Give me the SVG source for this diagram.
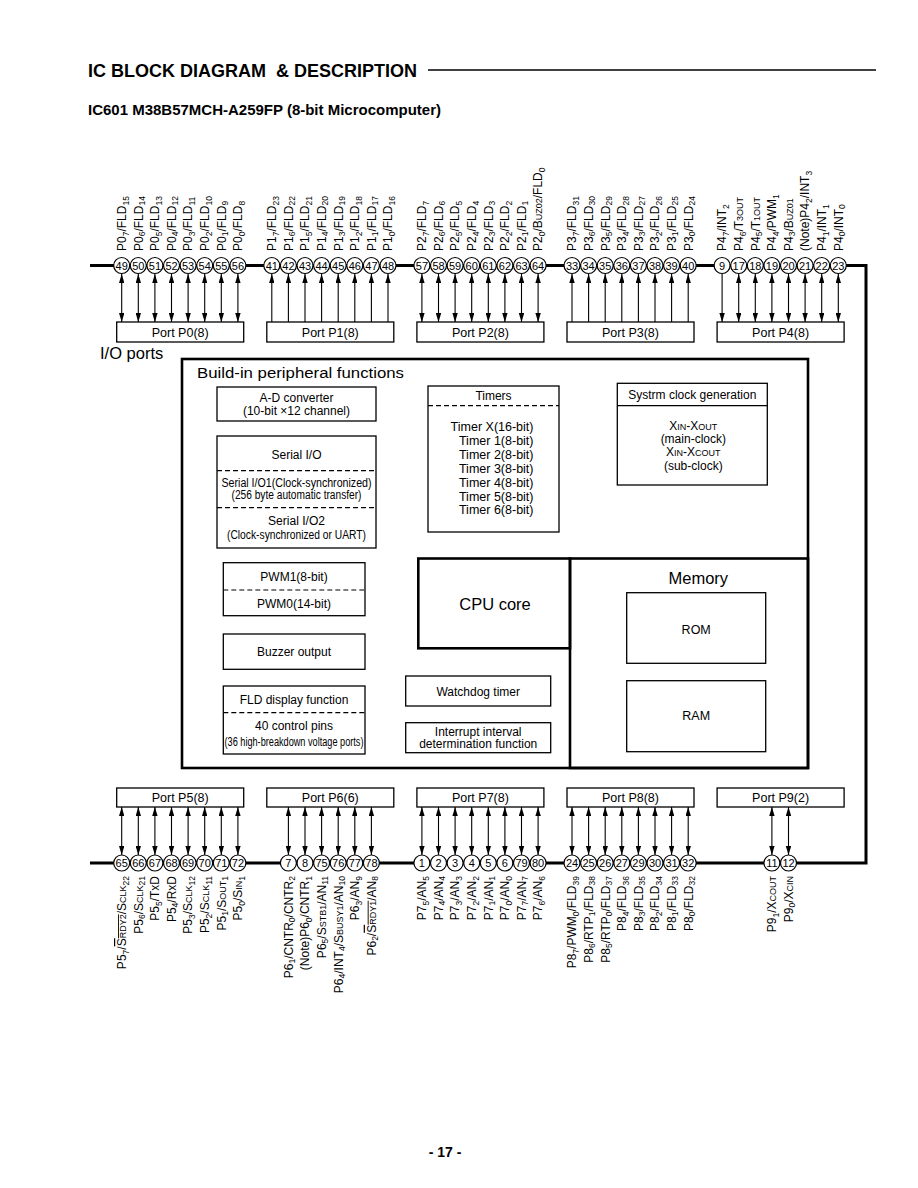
<svg xmlns="http://www.w3.org/2000/svg" width="918" height="1188" viewBox="0 0 918 1188">
<style>
text{font-family:"Liberation Sans",Arial,Helvetica,sans-serif;fill:#000}
.pn{font-size:11px;text-anchor:middle}
.lb{font-size:12px}
.lbb{font-size:12px;text-anchor:end}
.s{font-size:8.5px}
.c{font-size:9px}
.pin{fill:#fff;stroke:#000;stroke-width:1.2}
.bus{fill:none;stroke:#000;stroke-width:3}
.box{fill:#fff;stroke:#000;stroke-width:1.3}
.thick{fill:none;stroke:#000;stroke-width:2.6}
.dash{stroke:#000;stroke-width:1.2;stroke-dasharray:5 3}
.sol{stroke:#000;stroke-width:1.3}
.t{font-size:12px;text-anchor:middle}
.pt{font-size:12.5px;text-anchor:middle}
.conn line{stroke:#000;stroke-width:1.1}
.dbl{marker-start:url(#ah);marker-end:url(#ah)}
.one{marker-end:url(#ah)}
</style>
<defs>
<marker id="ah" viewBox="0 0 10 6" refX="10" refY="3" markerWidth="9" markerHeight="5.4" markerUnits="userSpaceOnUse" orient="auto-start-reverse"><path d="M0,0 L10,3 L0,6 z" fill="#000"/></marker>
</defs>
<rect width="918" height="1188" fill="#fff"/>

<g id="title">
<text x="88" y="77" font-size="18" font-weight="bold" textLength="329" lengthAdjust="spacingAndGlyphs" xml:space="preserve">IC BLOCK DIAGRAM  &amp; DESCRIPTION</text>
<line x1="428" y1="70" x2="876" y2="70" stroke="#000" stroke-width="1.5"/>
<text x="88" y="115" font-size="14.5" font-weight="bold" textLength="353" lengthAdjust="spacingAndGlyphs">IC601 M38B57MCH-A259FP (8-bit Microcomputer)</text>
<text x="445" y="1157" font-size="14" font-weight="bold" text-anchor="middle">- 17 -</text>
</g>

<g id="bus"><path class="bus" d="M90,265.5 H866 V863 H90"/></g>

<g id="connectors" class="conn">
<line class="dbl" x1="121.7" y1="274" x2="121.7" y2="322"/>
<line class="dbl" x1="138.3" y1="274" x2="138.3" y2="322"/>
<line class="dbl" x1="154.9" y1="274" x2="154.9" y2="322"/>
<line class="dbl" x1="171.5" y1="274" x2="171.5" y2="322"/>
<line class="dbl" x1="188.1" y1="274" x2="188.1" y2="322"/>
<line class="dbl" x1="204.7" y1="274" x2="204.7" y2="322"/>
<line class="dbl" x1="221.3" y1="274" x2="221.3" y2="322"/>
<line class="dbl" x1="237.9" y1="274" x2="237.9" y2="322"/>
<line class="one" x1="271.8" y1="322" x2="271.8" y2="274"/>
<line class="one" x1="288.4" y1="322" x2="288.4" y2="274"/>
<line class="one" x1="305" y1="322" x2="305" y2="274"/>
<line class="one" x1="321.6" y1="322" x2="321.6" y2="274"/>
<line class="one" x1="338.2" y1="322" x2="338.2" y2="274"/>
<line class="one" x1="354.8" y1="322" x2="354.8" y2="274"/>
<line class="one" x1="371.4" y1="322" x2="371.4" y2="274"/>
<line class="one" x1="388" y1="322" x2="388" y2="274"/>
<line class="dbl" x1="421.9" y1="274" x2="421.9" y2="322"/>
<line class="dbl" x1="438.5" y1="274" x2="438.5" y2="322"/>
<line class="dbl" x1="455.1" y1="274" x2="455.1" y2="322"/>
<line class="dbl" x1="471.7" y1="274" x2="471.7" y2="322"/>
<line class="dbl" x1="488.3" y1="274" x2="488.3" y2="322"/>
<line class="dbl" x1="504.9" y1="274" x2="504.9" y2="322"/>
<line class="dbl" x1="521.5" y1="274" x2="521.5" y2="322"/>
<line class="dbl" x1="538.1" y1="274" x2="538.1" y2="322"/>
<line class="one" x1="572" y1="322" x2="572" y2="274"/>
<line class="one" x1="588.6" y1="322" x2="588.6" y2="274"/>
<line class="one" x1="605.2" y1="322" x2="605.2" y2="274"/>
<line class="one" x1="621.8" y1="322" x2="621.8" y2="274"/>
<line class="one" x1="638.4" y1="322" x2="638.4" y2="274"/>
<line class="one" x1="655" y1="322" x2="655" y2="274"/>
<line class="one" x1="671.6" y1="322" x2="671.6" y2="274"/>
<line class="one" x1="688.2" y1="322" x2="688.2" y2="274"/>
<line class="one" x1="722.1" y1="274" x2="722.1" y2="322"/>
<line class="dbl" x1="738.7" y1="274" x2="738.7" y2="322"/>
<line class="dbl" x1="755.3" y1="274" x2="755.3" y2="322"/>
<line class="dbl" x1="771.9" y1="274" x2="771.9" y2="322"/>
<line class="dbl" x1="788.5" y1="274" x2="788.5" y2="322"/>
<line class="dbl" x1="805.1" y1="274" x2="805.1" y2="322"/>
<line class="dbl" x1="821.7" y1="274" x2="821.7" y2="322"/>
<line class="dbl" x1="838.3" y1="274" x2="838.3" y2="322"/>

<line class="dbl" x1="121.7" y1="807" x2="121.7" y2="855"/>
<line class="dbl" x1="138.3" y1="807" x2="138.3" y2="855"/>
<line class="dbl" x1="154.9" y1="807" x2="154.9" y2="855"/>
<line class="dbl" x1="171.5" y1="807" x2="171.5" y2="855"/>
<line class="dbl" x1="188.1" y1="807" x2="188.1" y2="855"/>
<line class="dbl" x1="204.7" y1="807" x2="204.7" y2="855"/>
<line class="dbl" x1="221.3" y1="807" x2="221.3" y2="855"/>
<line class="dbl" x1="237.9" y1="807" x2="237.9" y2="855"/>
<line class="dbl" x1="288.4" y1="807" x2="288.4" y2="855"/>
<line class="dbl" x1="305" y1="807" x2="305" y2="855"/>
<line class="dbl" x1="321.6" y1="807" x2="321.6" y2="855"/>
<line class="dbl" x1="338.2" y1="807" x2="338.2" y2="855"/>
<line class="dbl" x1="354.8" y1="807" x2="354.8" y2="855"/>
<line class="dbl" x1="371.4" y1="807" x2="371.4" y2="855"/>
<line class="dbl" x1="421.9" y1="807" x2="421.9" y2="855"/>
<line class="dbl" x1="438.5" y1="807" x2="438.5" y2="855"/>
<line class="dbl" x1="455.1" y1="807" x2="455.1" y2="855"/>
<line class="dbl" x1="471.7" y1="807" x2="471.7" y2="855"/>
<line class="dbl" x1="488.3" y1="807" x2="488.3" y2="855"/>
<line class="dbl" x1="504.9" y1="807" x2="504.9" y2="855"/>
<line class="dbl" x1="521.5" y1="807" x2="521.5" y2="855"/>
<line class="dbl" x1="538.1" y1="807" x2="538.1" y2="855"/>
<line class="dbl" x1="572" y1="807" x2="572" y2="855"/>
<line class="dbl" x1="588.6" y1="807" x2="588.6" y2="855"/>
<line class="dbl" x1="605.2" y1="807" x2="605.2" y2="855"/>
<line class="dbl" x1="621.8" y1="807" x2="621.8" y2="855"/>
<line class="dbl" x1="638.4" y1="807" x2="638.4" y2="855"/>
<line class="dbl" x1="655" y1="807" x2="655" y2="855"/>
<line class="dbl" x1="671.6" y1="807" x2="671.6" y2="855"/>
<line class="dbl" x1="688.2" y1="807" x2="688.2" y2="855"/>
<line class="dbl" x1="771.9" y1="807" x2="771.9" y2="855"/>
<line class="dbl" x1="788.5" y1="807" x2="788.5" y2="855"/>
</g>

<text x="100" y="359" font-size="16.5">I/O ports</text>

<g id="portP0"><rect class="box" x="116.7" y="322" width="127" height="20"/><text class="pt" x="180.2" y="336.5">Port P0(8)</text></g>
<g id="portP1"><rect class="box" x="266.8" y="322" width="127" height="20"/><text class="pt" x="330.3" y="336.5">Port P1(8)</text></g>
<g id="portP2"><rect class="box" x="416.9" y="322" width="127" height="20"/><text class="pt" x="480.4" y="336.5">Port P2(8)</text></g>
<g id="portP3"><rect class="box" x="567" y="322" width="127" height="20"/><text class="pt" x="630.5" y="336.5">Port P3(8)</text></g>
<g id="portP4"><rect class="box" x="717.1" y="322" width="127" height="20"/><text class="pt" x="780.6" y="336.5">Port P4(8)</text></g>
<g id="portP5"><rect class="box" x="116.7" y="788" width="127" height="19"/><text class="pt" x="180.2" y="802">Port P5(8)</text></g>
<g id="portP6"><rect class="box" x="266.8" y="788" width="127" height="19"/><text class="pt" x="330.3" y="802">Port P6(6)</text></g>
<g id="portP7"><rect class="box" x="416.9" y="788" width="127" height="19"/><text class="pt" x="480.4" y="802">Port P7(8)</text></g>
<g id="portP8"><rect class="box" x="567" y="788" width="127" height="19"/><text class="pt" x="630.5" y="802">Port P8(8)</text></g>
<g id="portP9"><rect class="box" x="717.1" y="788" width="127" height="19"/><text class="pt" x="780.6" y="802">Port P9(2)</text></g>

<g id="peripheral">
<rect class="thick" x="182" y="359" width="626" height="409"/>
<text x="197" y="378" font-size="15.5" textLength="207" lengthAdjust="spacingAndGlyphs">Build-in peripheral functions</text>
</g>
<g id="adc"><rect class="box" x="217" y="387" width="159" height="34"/><text class="t" x="296.5" y="401.5">A-D converter</text><text class="t" x="296.5" y="414.5">(10-bit ×12 channel)</text></g>
<g id="serial"><rect class="box" x="217" y="436" width="159" height="112"/>
<line class="dash" x1="217" y1="470.7" x2="376" y2="470.7"/><line class="dash" x1="217" y1="507.7" x2="376" y2="507.7"/>
<text class="t" x="296.5" y="458.5" font-size="12.5">Serial I/O</text>
<text class="t" x="296.5" y="486.7" font-size="10.5" textLength="150" lengthAdjust="spacingAndGlyphs">Serial I/O1(Clock-synchronized)</text>
<text class="t" x="296.5" y="499" font-size="10.5" textLength="130" lengthAdjust="spacingAndGlyphs">(256 byte automatic transfer)</text>
<text class="t" x="296.5" y="524.5" font-size="10.5" textLength="57" lengthAdjust="spacingAndGlyphs">Serial I/O2</text>
<text class="t" x="296.5" y="539" font-size="10.5" textLength="139" lengthAdjust="spacingAndGlyphs">(Clock-synchronized or UART)</text>
</g>
<g id="timers"><rect class="box" x="428" y="386" width="131" height="146"/>
<line class="dash" x1="428" y1="405.7" x2="559" y2="405.7"/>
<text class="t" x="493.5" y="399.5">Timers</text>
<g font-size="12.5" text-anchor="end">
<text x="533.5" y="431">Timer X(16-bit)</text>
<text x="533.5" y="444.9">Timer 1(8-bit)</text>
<text x="533.5" y="458.8">Timer 2(8-bit)</text>
<text x="533.5" y="472.7">Timer 3(8-bit)</text>
<text x="533.5" y="486.6">Timer 4(8-bit)</text>
<text x="533.5" y="500.5">Timer 5(8-bit)</text>
<text x="533.5" y="514.4">Timer 6(8-bit)</text>
</g></g>
<g id="clock"><rect class="box" x="617.3" y="383.3" width="150" height="101.7"/>
<line class="sol" x1="617.3" y1="405.7" x2="767.3" y2="405.7"/>
<text class="t" x="692.3" y="398.6">Systrm clock generation</text>
<text class="t" x="693.3" y="430" font-size="11.5">X<tspan class="c">IN</tspan>-X<tspan class="c">OUT</tspan></text>
<text class="t" x="693.3" y="443.2" font-size="11.5">(main-clock)</text>
<text class="t" x="693.3" y="456.4" font-size="11.5">X<tspan class="c">IN</tspan>-X<tspan class="c">COUT</tspan></text>
<text class="t" x="693.3" y="469.6" font-size="11.5">(sub-clock)</text>
</g>
<g id="pwm"><rect class="box" x="223.3" y="562.7" width="141.7" height="53"/>
<line class="dash" x1="223.3" y1="590" x2="365" y2="590"/>
<text class="t" x="294" y="581">PWM1(8-bit)</text><text class="t" x="294" y="608.3">PWM0(14-bit)</text></g>
<g id="buzzer"><rect class="box" x="223.3" y="634" width="141.7" height="35.3"/><text class="t" x="294" y="656">Buzzer output</text></g>
<g id="fld"><rect class="box" x="223.3" y="686" width="141.7" height="68"/>
<line class="dash" x1="223.3" y1="712.7" x2="365" y2="712.7"/>
<text class="t" x="294" y="704.3">FLD display function</text>
<text class="t" x="294" y="730.3">40 control pins</text>
<text class="t" x="294" y="746" font-size="9.5" textLength="139" lengthAdjust="spacingAndGlyphs">(36 high-breakdown voltage ports)</text></g>
<g id="cpu"><rect class="thick" x="418.3" y="558.5" width="151.7" height="89.8"/><text x="495" y="610" font-size="16.5" text-anchor="middle">CPU core</text></g>
<g id="memory"><rect class="thick" x="570" y="558.5" width="238" height="209.5"/><text x="698.3" y="584" font-size="16.5" text-anchor="middle">Memory</text></g>
<g id="rom"><rect class="box" x="626.7" y="592.7" width="139" height="70.6"/><text class="pt" x="696.2" y="633.5">ROM</text></g>
<g id="ram"><rect class="box" x="626.7" y="680.7" width="139" height="71"/><text class="pt" x="696.2" y="719.5">RAM</text></g>
<g id="watchdog"><rect class="box" x="405.7" y="676" width="145" height="30"/><text class="t" x="478.2" y="696">Watchdog timer</text></g>
<g id="interrupt"><rect class="box" x="405.7" y="722.7" width="145" height="30"/><text class="t" x="478.2" y="736">Interrupt interval</text><text class="t" x="478.2" y="748.3">determination function</text></g>

<g id="pins-top">
<g id="pin49"><circle class="pin" cx="121.7" cy="265.5" r="8"/><text class="pn" x="121.7" y="269.5">49</text><text class="lb" transform="translate(126,251) rotate(-90)">P0<tspan class="s" dy="2.5">7</tspan><tspan dy="-2.5">/FLD</tspan><tspan class="s" dy="2.5">15</tspan></text></g>
<g id="pin50"><circle class="pin" cx="138.3" cy="265.5" r="8"/><text class="pn" x="138.3" y="269.5">50</text><text class="lb" transform="translate(142.6,251) rotate(-90)">P0<tspan class="s" dy="2.5">6</tspan><tspan dy="-2.5">/FLD</tspan><tspan class="s" dy="2.5">14</tspan></text></g>
<g id="pin51"><circle class="pin" cx="154.9" cy="265.5" r="8"/><text class="pn" x="154.9" y="269.5">51</text><text class="lb" transform="translate(159.2,251) rotate(-90)">P0<tspan class="s" dy="2.5">5</tspan><tspan dy="-2.5">/FLD</tspan><tspan class="s" dy="2.5">13</tspan></text></g>
<g id="pin52"><circle class="pin" cx="171.5" cy="265.5" r="8"/><text class="pn" x="171.5" y="269.5">52</text><text class="lb" transform="translate(175.8,251) rotate(-90)">P0<tspan class="s" dy="2.5">4</tspan><tspan dy="-2.5">/FLD</tspan><tspan class="s" dy="2.5">12</tspan></text></g>
<g id="pin53"><circle class="pin" cx="188.1" cy="265.5" r="8"/><text class="pn" x="188.1" y="269.5">53</text><text class="lb" transform="translate(192.4,251) rotate(-90)">P0<tspan class="s" dy="2.5">3</tspan><tspan dy="-2.5">/FLD</tspan><tspan class="s" dy="2.5">11</tspan></text></g>
<g id="pin54"><circle class="pin" cx="204.7" cy="265.5" r="8"/><text class="pn" x="204.7" y="269.5">54</text><text class="lb" transform="translate(209,251) rotate(-90)">P0<tspan class="s" dy="2.5">2</tspan><tspan dy="-2.5">/FLD</tspan><tspan class="s" dy="2.5">10</tspan></text></g>
<g id="pin55"><circle class="pin" cx="221.3" cy="265.5" r="8"/><text class="pn" x="221.3" y="269.5">55</text><text class="lb" transform="translate(225.6,251) rotate(-90)">P0<tspan class="s" dy="2.5">1</tspan><tspan dy="-2.5">/FLD</tspan><tspan class="s" dy="2.5">9</tspan></text></g>
<g id="pin56"><circle class="pin" cx="237.9" cy="265.5" r="8"/><text class="pn" x="237.9" y="269.5">56</text><text class="lb" transform="translate(242.2,251) rotate(-90)">P0<tspan class="s" dy="2.5">0</tspan><tspan dy="-2.5">/FLD</tspan><tspan class="s" dy="2.5">8</tspan></text></g>
<g id="pin41"><circle class="pin" cx="271.8" cy="265.5" r="8"/><text class="pn" x="271.8" y="269.5">41</text><text class="lb" transform="translate(276.1,251) rotate(-90)">P1<tspan class="s" dy="2.5">7</tspan><tspan dy="-2.5">/FLD</tspan><tspan class="s" dy="2.5">23</tspan></text></g>
<g id="pin42"><circle class="pin" cx="288.4" cy="265.5" r="8"/><text class="pn" x="288.4" y="269.5">42</text><text class="lb" transform="translate(292.7,251) rotate(-90)">P1<tspan class="s" dy="2.5">6</tspan><tspan dy="-2.5">/FLD</tspan><tspan class="s" dy="2.5">22</tspan></text></g>
<g id="pin43"><circle class="pin" cx="305" cy="265.5" r="8"/><text class="pn" x="305" y="269.5">43</text><text class="lb" transform="translate(309.3,251) rotate(-90)">P1<tspan class="s" dy="2.5">5</tspan><tspan dy="-2.5">/FLD</tspan><tspan class="s" dy="2.5">21</tspan></text></g>
<g id="pin44"><circle class="pin" cx="321.6" cy="265.5" r="8"/><text class="pn" x="321.6" y="269.5">44</text><text class="lb" transform="translate(325.9,251) rotate(-90)">P1<tspan class="s" dy="2.5">4</tspan><tspan dy="-2.5">/FLD</tspan><tspan class="s" dy="2.5">20</tspan></text></g>
<g id="pin45"><circle class="pin" cx="338.2" cy="265.5" r="8"/><text class="pn" x="338.2" y="269.5">45</text><text class="lb" transform="translate(342.5,251) rotate(-90)">P1<tspan class="s" dy="2.5">3</tspan><tspan dy="-2.5">/FLD</tspan><tspan class="s" dy="2.5">19</tspan></text></g>
<g id="pin46"><circle class="pin" cx="354.8" cy="265.5" r="8"/><text class="pn" x="354.8" y="269.5">46</text><text class="lb" transform="translate(359.1,251) rotate(-90)">P1<tspan class="s" dy="2.5">2</tspan><tspan dy="-2.5">/FLD</tspan><tspan class="s" dy="2.5">18</tspan></text></g>
<g id="pin47"><circle class="pin" cx="371.4" cy="265.5" r="8"/><text class="pn" x="371.4" y="269.5">47</text><text class="lb" transform="translate(375.7,251) rotate(-90)">P1<tspan class="s" dy="2.5">1</tspan><tspan dy="-2.5">/FLD</tspan><tspan class="s" dy="2.5">17</tspan></text></g>
<g id="pin48"><circle class="pin" cx="388" cy="265.5" r="8"/><text class="pn" x="388" y="269.5">48</text><text class="lb" transform="translate(392.3,251) rotate(-90)">P1<tspan class="s" dy="2.5">0</tspan><tspan dy="-2.5">/FLD</tspan><tspan class="s" dy="2.5">16</tspan></text></g>
<g id="pin57"><circle class="pin" cx="421.9" cy="265.5" r="8"/><text class="pn" x="421.9" y="269.5">57</text><text class="lb" transform="translate(426.2,251) rotate(-90)">P2<tspan class="s" dy="2.5">7</tspan><tspan dy="-2.5">/FLD</tspan><tspan class="s" dy="2.5">7</tspan></text></g>
<g id="pin58"><circle class="pin" cx="438.5" cy="265.5" r="8"/><text class="pn" x="438.5" y="269.5">58</text><text class="lb" transform="translate(442.8,251) rotate(-90)">P2<tspan class="s" dy="2.5">6</tspan><tspan dy="-2.5">/FLD</tspan><tspan class="s" dy="2.5">6</tspan></text></g>
<g id="pin59"><circle class="pin" cx="455.1" cy="265.5" r="8"/><text class="pn" x="455.1" y="269.5">59</text><text class="lb" transform="translate(459.4,251) rotate(-90)">P2<tspan class="s" dy="2.5">5</tspan><tspan dy="-2.5">/FLD</tspan><tspan class="s" dy="2.5">5</tspan></text></g>
<g id="pin60"><circle class="pin" cx="471.7" cy="265.5" r="8"/><text class="pn" x="471.7" y="269.5">60</text><text class="lb" transform="translate(476,251) rotate(-90)">P2<tspan class="s" dy="2.5">4</tspan><tspan dy="-2.5">/FLD</tspan><tspan class="s" dy="2.5">4</tspan></text></g>
<g id="pin61"><circle class="pin" cx="488.3" cy="265.5" r="8"/><text class="pn" x="488.3" y="269.5">61</text><text class="lb" transform="translate(492.6,251) rotate(-90)">P2<tspan class="s" dy="2.5">3</tspan><tspan dy="-2.5">/FLD</tspan><tspan class="s" dy="2.5">3</tspan></text></g>
<g id="pin62"><circle class="pin" cx="504.9" cy="265.5" r="8"/><text class="pn" x="504.9" y="269.5">62</text><text class="lb" transform="translate(509.2,251) rotate(-90)">P2<tspan class="s" dy="2.5">2</tspan><tspan dy="-2.5">/FLD</tspan><tspan class="s" dy="2.5">2</tspan></text></g>
<g id="pin63"><circle class="pin" cx="521.5" cy="265.5" r="8"/><text class="pn" x="521.5" y="269.5">63</text><text class="lb" transform="translate(525.8,251) rotate(-90)">P2<tspan class="s" dy="2.5">1</tspan><tspan dy="-2.5">/FLD</tspan><tspan class="s" dy="2.5">1</tspan></text></g>
<g id="pin64"><circle class="pin" cx="538.1" cy="265.5" r="8"/><text class="pn" x="538.1" y="269.5">64</text><text class="lb" transform="translate(542.4,251) rotate(-90)">P2<tspan class="s" dy="2.5">0</tspan><tspan dy="-2.5">/B</tspan><tspan class="c">UZ02</tspan>/FLD<tspan class="s" dy="2.5">0</tspan></text></g>
<g id="pin33"><circle class="pin" cx="572" cy="265.5" r="8"/><text class="pn" x="572" y="269.5">33</text><text class="lb" transform="translate(576.3,251) rotate(-90)">P3<tspan class="s" dy="2.5">7</tspan><tspan dy="-2.5">/FLD</tspan><tspan class="s" dy="2.5">31</tspan></text></g>
<g id="pin34"><circle class="pin" cx="588.6" cy="265.5" r="8"/><text class="pn" x="588.6" y="269.5">34</text><text class="lb" transform="translate(592.9,251) rotate(-90)">P3<tspan class="s" dy="2.5">6</tspan><tspan dy="-2.5">/FLD</tspan><tspan class="s" dy="2.5">30</tspan></text></g>
<g id="pin35"><circle class="pin" cx="605.2" cy="265.5" r="8"/><text class="pn" x="605.2" y="269.5">35</text><text class="lb" transform="translate(609.5,251) rotate(-90)">P3<tspan class="s" dy="2.5">5</tspan><tspan dy="-2.5">/FLD</tspan><tspan class="s" dy="2.5">29</tspan></text></g>
<g id="pin36"><circle class="pin" cx="621.8" cy="265.5" r="8"/><text class="pn" x="621.8" y="269.5">36</text><text class="lb" transform="translate(626.1,251) rotate(-90)">P3<tspan class="s" dy="2.5">4</tspan><tspan dy="-2.5">/FLD</tspan><tspan class="s" dy="2.5">28</tspan></text></g>
<g id="pin37"><circle class="pin" cx="638.4" cy="265.5" r="8"/><text class="pn" x="638.4" y="269.5">37</text><text class="lb" transform="translate(642.7,251) rotate(-90)">P3<tspan class="s" dy="2.5">3</tspan><tspan dy="-2.5">/FLD</tspan><tspan class="s" dy="2.5">27</tspan></text></g>
<g id="pin38"><circle class="pin" cx="655" cy="265.5" r="8"/><text class="pn" x="655" y="269.5">38</text><text class="lb" transform="translate(659.3,251) rotate(-90)">P3<tspan class="s" dy="2.5">2</tspan><tspan dy="-2.5">/FLD</tspan><tspan class="s" dy="2.5">26</tspan></text></g>
<g id="pin39"><circle class="pin" cx="671.6" cy="265.5" r="8"/><text class="pn" x="671.6" y="269.5">39</text><text class="lb" transform="translate(675.9,251) rotate(-90)">P3<tspan class="s" dy="2.5">1</tspan><tspan dy="-2.5">/FLD</tspan><tspan class="s" dy="2.5">25</tspan></text></g>
<g id="pin40"><circle class="pin" cx="688.2" cy="265.5" r="8"/><text class="pn" x="688.2" y="269.5">40</text><text class="lb" transform="translate(692.5,251) rotate(-90)">P3<tspan class="s" dy="2.5">0</tspan><tspan dy="-2.5">/FLD</tspan><tspan class="s" dy="2.5">24</tspan></text></g>
<g id="pin9"><circle class="pin" cx="722.1" cy="265.5" r="8"/><text class="pn" x="722.1" y="269.5">9</text><text class="lb" transform="translate(726.4,251) rotate(-90)">P4<tspan class="s" dy="2.5">7</tspan><tspan dy="-2.5">/INT</tspan><tspan class="s" dy="2.5">2</tspan></text></g>
<g id="pin17"><circle class="pin" cx="738.7" cy="265.5" r="8"/><text class="pn" x="738.7" y="269.5">17</text><text class="lb" transform="translate(743,251) rotate(-90)">P4<tspan class="s" dy="2.5">6</tspan><tspan dy="-2.5">/T</tspan><tspan class="c">3OUT</tspan></text></g>
<g id="pin18"><circle class="pin" cx="755.3" cy="265.5" r="8"/><text class="pn" x="755.3" y="269.5">18</text><text class="lb" transform="translate(759.6,251) rotate(-90)">P4<tspan class="s" dy="2.5">5</tspan><tspan dy="-2.5">/T</tspan><tspan class="c">1OUT</tspan></text></g>
<g id="pin19"><circle class="pin" cx="771.9" cy="265.5" r="8"/><text class="pn" x="771.9" y="269.5">19</text><text class="lb" transform="translate(776.2,251) rotate(-90)">P4<tspan class="s" dy="2.5">4</tspan><tspan dy="-2.5">/PWM</tspan><tspan class="s" dy="2.5">1</tspan></text></g>
<g id="pin20"><circle class="pin" cx="788.5" cy="265.5" r="8"/><text class="pn" x="788.5" y="269.5">20</text><text class="lb" transform="translate(792.8,251) rotate(-90)">P4<tspan class="s" dy="2.5">3</tspan><tspan dy="-2.5">/B</tspan><tspan class="c">UZ01</tspan></text></g>
<g id="pin21"><circle class="pin" cx="805.1" cy="265.5" r="8"/><text class="pn" x="805.1" y="269.5">21</text><text class="lb" transform="translate(809.4,251) rotate(-90)">(Note)P4<tspan class="s" dy="2.5">2</tspan><tspan dy="-2.5">/INT</tspan><tspan class="s" dy="2.5">3</tspan></text></g>
<g id="pin22"><circle class="pin" cx="821.7" cy="265.5" r="8"/><text class="pn" x="821.7" y="269.5">22</text><text class="lb" transform="translate(826,251) rotate(-90)">P4<tspan class="s" dy="2.5">1</tspan><tspan dy="-2.5">/INT</tspan><tspan class="s" dy="2.5">1</tspan></text></g>
<g id="pin23"><circle class="pin" cx="838.3" cy="265.5" r="8"/><text class="pn" x="838.3" y="269.5">23</text><text class="lb" transform="translate(842.6,251) rotate(-90)">P4<tspan class="s" dy="2.5">0</tspan><tspan dy="-2.5">/INT</tspan><tspan class="s" dy="2.5">0</tspan></text></g>
</g>

<g id="pins-bottom">
<g id="pin65"><circle class="pin" cx="121.7" cy="863" r="8"/><text class="pn" x="121.7" y="867">65</text><text class="lbb" transform="translate(126,876) rotate(-90)">P5<tspan class="s" dy="2.5">7</tspan><tspan dy="-2.5">/</tspan><tspan text-decoration="overline">S<tspan class="c">RDY2</tspan></tspan>/S<tspan class="c">CLK</tspan><tspan class="s" dy="2.5">22</tspan></text></g>
<g id="pin66"><circle class="pin" cx="138.3" cy="863" r="8"/><text class="pn" x="138.3" y="867">66</text><text class="lbb" transform="translate(142.6,876) rotate(-90)">P5<tspan class="s" dy="2.5">6</tspan><tspan dy="-2.5">/S</tspan><tspan class="c">CLK</tspan><tspan class="s" dy="2.5">21</tspan></text></g>
<g id="pin67"><circle class="pin" cx="154.9" cy="863" r="8"/><text class="pn" x="154.9" y="867">67</text><text class="lbb" transform="translate(159.2,876) rotate(-90)">P5<tspan class="s" dy="2.5">5</tspan><tspan dy="-2.5">/TxD</tspan></text></g>
<g id="pin68"><circle class="pin" cx="171.5" cy="863" r="8"/><text class="pn" x="171.5" y="867">68</text><text class="lbb" transform="translate(175.8,876) rotate(-90)">P5<tspan class="s" dy="2.5">4</tspan><tspan dy="-2.5">/RxD</tspan></text></g>
<g id="pin69"><circle class="pin" cx="188.1" cy="863" r="8"/><text class="pn" x="188.1" y="867">69</text><text class="lbb" transform="translate(192.4,876) rotate(-90)">P5<tspan class="s" dy="2.5">3</tspan><tspan dy="-2.5">/S</tspan><tspan class="c">CLK</tspan><tspan class="s" dy="2.5">12</tspan></text></g>
<g id="pin70"><circle class="pin" cx="204.7" cy="863" r="8"/><text class="pn" x="204.7" y="867">70</text><text class="lbb" transform="translate(209,876) rotate(-90)">P5<tspan class="s" dy="2.5">2</tspan><tspan dy="-2.5">/S</tspan><tspan class="c">CLK</tspan><tspan class="s" dy="2.5">11</tspan></text></g>
<g id="pin71"><circle class="pin" cx="221.3" cy="863" r="8"/><text class="pn" x="221.3" y="867">71</text><text class="lbb" transform="translate(225.6,876) rotate(-90)">P5<tspan class="s" dy="2.5">1</tspan><tspan dy="-2.5">/S</tspan><tspan class="c">OUT</tspan><tspan class="s" dy="2.5">1</tspan></text></g>
<g id="pin72"><circle class="pin" cx="237.9" cy="863" r="8"/><text class="pn" x="237.9" y="867">72</text><text class="lbb" transform="translate(242.2,876) rotate(-90)">P5<tspan class="s" dy="2.5">0</tspan><tspan dy="-2.5">/S</tspan><tspan class="c">IN</tspan><tspan class="s" dy="2.5">1</tspan></text></g>
<g id="pin7"><circle class="pin" cx="288.4" cy="863" r="8"/><text class="pn" x="288.4" y="867">7</text><text class="lbb" transform="translate(292.7,876) rotate(-90)">P6<tspan class="s" dy="2.5">1</tspan><tspan dy="-2.5">/CNTR</tspan><tspan class="s" dy="2.5">0</tspan><tspan dy="-2.5">/CNTR</tspan><tspan class="s" dy="2.5">2</tspan></text></g>
<g id="pin8"><circle class="pin" cx="305" cy="863" r="8"/><text class="pn" x="305" y="867">8</text><text class="lbb" transform="translate(309.3,876) rotate(-90)">(Note)P6<tspan class="s" dy="2.5">0</tspan><tspan dy="-2.5">/CNTR</tspan><tspan class="s" dy="2.5">1</tspan></text></g>
<g id="pin75"><circle class="pin" cx="321.6" cy="863" r="8"/><text class="pn" x="321.6" y="867">75</text><text class="lbb" transform="translate(325.9,876) rotate(-90)">P6<tspan class="s" dy="2.5">5</tspan><tspan dy="-2.5">/S</tspan><tspan class="c">STB1</tspan>/AN<tspan class="s" dy="2.5">11</tspan></text></g>
<g id="pin76"><circle class="pin" cx="338.2" cy="863" r="8"/><text class="pn" x="338.2" y="867">76</text><text class="lbb" transform="translate(342.5,876) rotate(-90)">P6<tspan class="s" dy="2.5">4</tspan><tspan dy="-2.5">/INT</tspan><tspan class="s" dy="2.5">4</tspan><tspan dy="-2.5">/S</tspan><tspan class="c">BUSY1</tspan>/AN<tspan class="s" dy="2.5">10</tspan></text></g>
<g id="pin77"><circle class="pin" cx="354.8" cy="863" r="8"/><text class="pn" x="354.8" y="867">77</text><text class="lbb" transform="translate(359.1,876) rotate(-90)">P6<tspan class="s" dy="2.5">3</tspan><tspan dy="-2.5">/AN</tspan><tspan class="s" dy="2.5">9</tspan></text></g>
<g id="pin78"><circle class="pin" cx="371.4" cy="863" r="8"/><text class="pn" x="371.4" y="867">78</text><text class="lbb" transform="translate(375.7,876) rotate(-90)">P6<tspan class="s" dy="2.5">2</tspan><tspan dy="-2.5">/</tspan><tspan text-decoration="overline">S<tspan class="c">RDY1</tspan></tspan>/AN<tspan class="s" dy="2.5">8</tspan></text></g>
<g id="pin1"><circle class="pin" cx="421.9" cy="863" r="8"/><text class="pn" x="421.9" y="867">1</text><text class="lbb" transform="translate(426.2,876) rotate(-90)">P7<tspan class="s" dy="2.5">5</tspan><tspan dy="-2.5">/AN</tspan><tspan class="s" dy="2.5">5</tspan></text></g>
<g id="pin2"><circle class="pin" cx="438.5" cy="863" r="8"/><text class="pn" x="438.5" y="867">2</text><text class="lbb" transform="translate(442.8,876) rotate(-90)">P7<tspan class="s" dy="2.5">4</tspan><tspan dy="-2.5">/AN</tspan><tspan class="s" dy="2.5">4</tspan></text></g>
<g id="pin3"><circle class="pin" cx="455.1" cy="863" r="8"/><text class="pn" x="455.1" y="867">3</text><text class="lbb" transform="translate(459.4,876) rotate(-90)">P7<tspan class="s" dy="2.5">3</tspan><tspan dy="-2.5">/AN</tspan><tspan class="s" dy="2.5">3</tspan></text></g>
<g id="pin4"><circle class="pin" cx="471.7" cy="863" r="8"/><text class="pn" x="471.7" y="867">4</text><text class="lbb" transform="translate(476,876) rotate(-90)">P7<tspan class="s" dy="2.5">2</tspan><tspan dy="-2.5">/AN</tspan><tspan class="s" dy="2.5">2</tspan></text></g>
<g id="pin5"><circle class="pin" cx="488.3" cy="863" r="8"/><text class="pn" x="488.3" y="867">5</text><text class="lbb" transform="translate(492.6,876) rotate(-90)">P7<tspan class="s" dy="2.5">1</tspan><tspan dy="-2.5">/AN</tspan><tspan class="s" dy="2.5">1</tspan></text></g>
<g id="pin6"><circle class="pin" cx="504.9" cy="863" r="8"/><text class="pn" x="504.9" y="867">6</text><text class="lbb" transform="translate(509.2,876) rotate(-90)">P7<tspan class="s" dy="2.5">0</tspan><tspan dy="-2.5">/AN</tspan><tspan class="s" dy="2.5">0</tspan></text></g>
<g id="pin79"><circle class="pin" cx="521.5" cy="863" r="8"/><text class="pn" x="521.5" y="867">79</text><text class="lbb" transform="translate(525.8,876) rotate(-90)">P7<tspan class="s" dy="2.5">7</tspan><tspan dy="-2.5">/AN</tspan><tspan class="s" dy="2.5">7</tspan></text></g>
<g id="pin80"><circle class="pin" cx="538.1" cy="863" r="8"/><text class="pn" x="538.1" y="867">80</text><text class="lbb" transform="translate(542.4,876) rotate(-90)">P7<tspan class="s" dy="2.5">6</tspan><tspan dy="-2.5">/AN</tspan><tspan class="s" dy="2.5">6</tspan></text></g>
<g id="pin24"><circle class="pin" cx="572" cy="863" r="8"/><text class="pn" x="572" y="867">24</text><text class="lbb" transform="translate(576.3,876) rotate(-90)">P8<tspan class="s" dy="2.5">7</tspan><tspan dy="-2.5">/PWM</tspan><tspan class="s" dy="2.5">0</tspan><tspan dy="-2.5">/FLD</tspan><tspan class="s" dy="2.5">39</tspan></text></g>
<g id="pin25"><circle class="pin" cx="588.6" cy="863" r="8"/><text class="pn" x="588.6" y="867">25</text><text class="lbb" transform="translate(592.9,876) rotate(-90)">P8<tspan class="s" dy="2.5">6</tspan><tspan dy="-2.5">/RTP</tspan><tspan class="s" dy="2.5">1</tspan><tspan dy="-2.5">/FLD</tspan><tspan class="s" dy="2.5">38</tspan></text></g>
<g id="pin26"><circle class="pin" cx="605.2" cy="863" r="8"/><text class="pn" x="605.2" y="867">26</text><text class="lbb" transform="translate(609.5,876) rotate(-90)">P8<tspan class="s" dy="2.5">5</tspan><tspan dy="-2.5">/RTP</tspan><tspan class="s" dy="2.5">0</tspan><tspan dy="-2.5">/FLD</tspan><tspan class="s" dy="2.5">37</tspan></text></g>
<g id="pin27"><circle class="pin" cx="621.8" cy="863" r="8"/><text class="pn" x="621.8" y="867">27</text><text class="lbb" transform="translate(626.1,876) rotate(-90)">P8<tspan class="s" dy="2.5">4</tspan><tspan dy="-2.5">/FLD</tspan><tspan class="s" dy="2.5">36</tspan></text></g>
<g id="pin29"><circle class="pin" cx="638.4" cy="863" r="8"/><text class="pn" x="638.4" y="867">29</text><text class="lbb" transform="translate(642.7,876) rotate(-90)">P8<tspan class="s" dy="2.5">3</tspan><tspan dy="-2.5">/FLD</tspan><tspan class="s" dy="2.5">35</tspan></text></g>
<g id="pin30"><circle class="pin" cx="655" cy="863" r="8"/><text class="pn" x="655" y="867">30</text><text class="lbb" transform="translate(659.3,876) rotate(-90)">P8<tspan class="s" dy="2.5">2</tspan><tspan dy="-2.5">/FLD</tspan><tspan class="s" dy="2.5">34</tspan></text></g>
<g id="pin31"><circle class="pin" cx="671.6" cy="863" r="8"/><text class="pn" x="671.6" y="867">31</text><text class="lbb" transform="translate(675.9,876) rotate(-90)">P8<tspan class="s" dy="2.5">1</tspan><tspan dy="-2.5">/FLD</tspan><tspan class="s" dy="2.5">33</tspan></text></g>
<g id="pin32"><circle class="pin" cx="688.2" cy="863" r="8"/><text class="pn" x="688.2" y="867">32</text><text class="lbb" transform="translate(692.5,876) rotate(-90)">P8<tspan class="s" dy="2.5">0</tspan><tspan dy="-2.5">/FLD</tspan><tspan class="s" dy="2.5">32</tspan></text></g>
<g id="pin11"><circle class="pin" cx="771.9" cy="863" r="8"/><text class="pn" x="771.9" y="867">11</text><text class="lbb" transform="translate(776.2,876) rotate(-90)">P9<tspan class="s" dy="2.5">1</tspan><tspan dy="-2.5">/X</tspan><tspan class="c">COUT</tspan></text></g>
<g id="pin12"><circle class="pin" cx="788.5" cy="863" r="8"/><text class="pn" x="788.5" y="867">12</text><text class="lbb" transform="translate(792.8,876) rotate(-90)">P9<tspan class="s" dy="2.5">0</tspan><tspan dy="-2.5">/X</tspan><tspan class="c">CIN</tspan></text></g>
</g>
</svg>
